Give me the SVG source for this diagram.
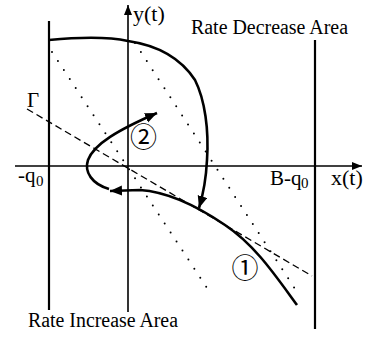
<svg xmlns="http://www.w3.org/2000/svg" width="368" height="339" viewBox="0 0 368 339">
<style>
.ax{stroke:#000;stroke-width:1.6;fill:none}
.bd{stroke:#000;stroke-width:2.2;fill:none}
.cv{stroke:#000;stroke-width:2.6;fill:none}
.dash{stroke:#000;stroke-width:1.3;fill:none;stroke-dasharray:7 4}
.dot{stroke:#000;stroke-width:2;fill:none;stroke-dasharray:0 10.8;stroke-linecap:round}
.t{font-family:"Liberation Serif","Times New Roman",serif;fill:#000}
.c{font-family:"Noto Sans CJK JP","DejaVu Sans",sans-serif;fill:#000}
</style>
<defs>
<marker id="ah" markerUnits="userSpaceOnUse" markerWidth="14" markerHeight="12" refX="12" refY="5" orient="auto">
<path d="M0,0 L12,5 L0,10 Z" fill="#000"/>
</marker>
<marker id="axh" markerUnits="userSpaceOnUse" markerWidth="12" markerHeight="10" refX="10" refY="4" orient="auto">
<path d="M0,0 L10,4 L0,8 Z" fill="#000"/>
</marker>
</defs>
<g id="axes">
<line class="ax" x1="15" y1="166" x2="362" y2="166" marker-end="url(#axh)"/>
<line class="ax" x1="128" y1="312" x2="128" y2="5" marker-end="url(#axh)"/>
<text class="t" x="133" y="21" font-size="22">y(t)</text>
<text class="t" x="331" y="185" font-size="22">x(t)</text>
</g>
<g id="left-bound">
<line class="bd" x1="49" y1="21" x2="49" y2="310"/>
<text class="t" x="18" y="182" font-size="21">-q</text>
<text class="t" x="36" y="186" font-size="15">0</text>
</g>
<g id="right-bound">
<line class="bd" x1="315" y1="40" x2="315" y2="329"/>
<text class="t" x="270" y="185" font-size="21">B-q</text>
<text class="t" x="301" y="188" font-size="15">0</text>
</g>
<g id="gamma">
<line class="dash" x1="27" y1="109" x2="312" y2="276"/>
<text class="t" x="27" y="107" font-size="21">Γ</text>
</g>
<g id="dotted-lines">
<line class="dot" x1="52" y1="52" x2="211" y2="294"/>
<line class="dot" x1="135" y1="43" x2="299" y2="295"/>
</g>
<g id="connectors">
<path class="cv" d="M49,40 C80,37 110,37 128,41 C155,45 180,57 195,80 C205,100 209,130 207,160 C206,180 203,195 199,208" marker-end="url(#ah)"/>
<path class="cv" d="M297,305 C275,275 255,245 225,225 C200,208 170,192 140,190 L110,191" marker-end="url(#ah)"/>
<path class="cv" d="M109,189 C92,184 84,172 88,160 C94,144 118,130 157,113" marker-end="url(#ah)"/>
</g>
<g id="label-1">
<text class="c" x="245" y="266" font-size="27" text-anchor="middle" dominant-baseline="central">①</text>
</g>
<g id="label-2">
<text class="c" x="143.5" y="135.5" font-size="27" text-anchor="middle" dominant-baseline="central">②</text>
</g>
<g id="area-labels">
<text class="t" x="191" y="34" font-size="20" textLength="157" lengthAdjust="spacingAndGlyphs">Rate Decrease Area</text>
<text class="t" x="28" y="327" font-size="20" textLength="150" lengthAdjust="spacingAndGlyphs">Rate Increase Area</text>
</g>
</svg>
